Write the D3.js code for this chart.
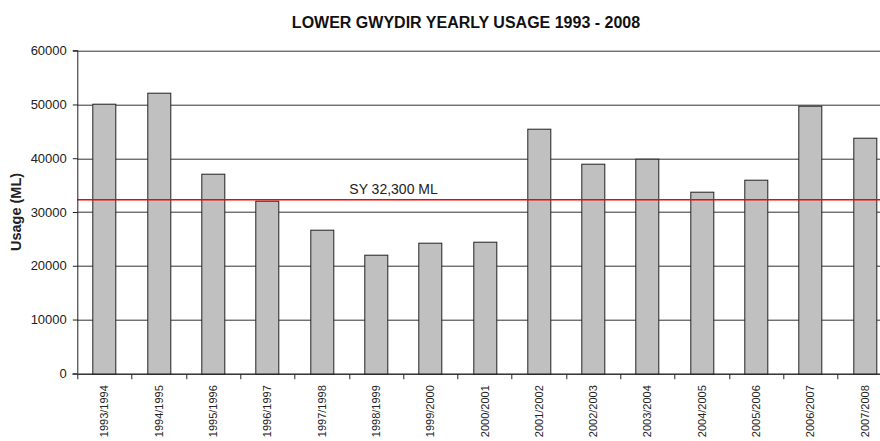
<!DOCTYPE html>
<html>
<head>
<meta charset="utf-8">
<title>Lower Gwydir Yearly Usage</title>
<script src="https://cdn.jsdelivr.net/npm/d3@7"></script>
<style>
  body { margin: 0; background: #fff; }
  svg { display: block; font-family: "Liberation Sans", Arial, sans-serif; }
  .axis text { fill: #222; }
  .axis path, .axis line { stroke: #222; }
</style>
</head>
<body>
<script>
// data
var seasons = ["1993/1994", "1994/1995", "1995/1996", "1996/1997", "1997/1998",
               "1998/1999", "1999/2000", "2000/2001", "2001/2002", "2002/2003",
               "2003/2004", "2004/2005", "2005/2006", "2006/2007", "2007/2008"];
var usage = [50200, 52100, 37100, 32100, 26800, 22100, 24200, 24400,
             45400, 38900, 39900, 33700, 36100, 49800, 43800];
var yTicks = [0, 10000, 20000, 30000, 40000, 50000, 60000];
var sustainableYield = 32300;
var syLabel = "SY 32,300 ML";

var W = 880, H = 441;
var margin = {top: 50.7, left: 77.3};
var width = 814.5, height = 322.6;

var svg = d3.select("body").append("svg")
    .attr("width", W)
    .attr("height", H);

var g = svg.append("g")
    .attr("transform", "translate(" + margin.left + "," + margin.top + ")");

var x = d3.scaleBand().domain(seasons).range([0, width]).paddingInner(0.57).paddingOuter(0.285);
var y = d3.scaleLinear().domain([0, 60000]).range([height, 0]);

// horizontal gridlines
g.selectAll(".grid")
    .data(yTicks)
    .enter().append("line")
    .attr("class", "grid")
    .attr("x1", 0)
    .attr("x2", width)
    .attr("y1", function(d) { return Math.round(y(d)) + 0.5; })
    .attr("y2", function(d) { return Math.round(y(d)) + 0.5; })
    .attr("stroke", "#333")
    .attr("stroke-width", 1);

// bars
g.selectAll(".bar")
    .data(usage)
    .enter().append("rect")
    .attr("class", "bar")
    .attr("x", function(d, i) { return Math.round(x(seasons[i])) + 0.5; })
    .attr("width", Math.round(x.bandwidth()))
    .attr("y", function(d) { return Math.round(y(d)) + 0.5; })
    .attr("height", function(d) { return Math.round(y(0)) - Math.round(y(d)); })
    .attr("fill", "#c0c0c0")
    .attr("stroke", "#222")
    .attr("stroke-width", 1);

// sustainable yield line
g.append("line")
    .attr("x1", 0)
    .attr("x2", width)
    .attr("y1", y(sustainableYield))
    .attr("y2", y(sustainableYield))
    .attr("stroke", "#ff0000")
    .attr("stroke-width", 1.5);

g.append("text")
    .attr("x", x(seasons[5]) - x.step() * 0.285 + 0.5)
    .attr("y", y(sustainableYield) - 6)
    .style("font-size", "14px")
    .attr("fill", "#222")
    .text(syLabel);

// y axis
g.append("g")
    .attr("class", "axis")
    .attr("transform", "translate(0.5,0)")
    .call(d3.axisLeft(y).tickValues(yTicks).tickSize(5).tickPadding(6).tickFormat(d3.format("d")))
    .call(function(s) { s.select(".domain").attr("d", "M-5," + y(60000) + "H0V" + y(0)); })
    .selectAll("text")
    .style("font-size", "13px");

// x axis, ticks at the band boundaries
var xAxis = g.append("g")
    .attr("class", "axis")
    .attr("transform", "translate(0," + (Math.round(height) + 0.5) + ")");

xAxis.append("line")
    .attr("x1", -5).attr("x2", width)
    .attr("stroke", "#222");

xAxis.selectAll(".xtick")
    .data(seasons)
    .enter().append("line")
    .attr("class", "xtick")
    .attr("x1", function(d) { return Math.round(x(d) - x.step() * 0.285) + 0.5; })
    .attr("x2", function(d) { return Math.round(x(d) - x.step() * 0.285) + 0.5; })
    .attr("y1", 0)
    .attr("y2", 5)
    .attr("stroke", "#222");

xAxis.selectAll(".xlabel")
    .data(seasons)
    .enter().append("text")
    .attr("class", "xlabel")
    .attr("transform", function(d) {
        return "translate(" + (x(d) + x.bandwidth() / 2 + 4) + ",11) rotate(-90)";
    })
    .style("text-anchor", "end")
    .style("font-size", "11px")
    .text(function(d) { return d; });

// title
svg.append("text")
    .attr("x", 466)
    .attr("y", 27.5)
    .style("text-anchor", "middle")
    .style("font-size", "16px")
    .style("font-weight", "bold")
    .attr("fill", "#111")
    .text("LOWER GWYDIR YEARLY USAGE 1993 - 2008");

// y axis label
svg.append("text")
    .attr("transform", "translate(21," + (margin.top + height / 2) + ") rotate(-90)")
    .style("text-anchor", "middle")
    .style("font-size", "14.5px")
    .style("font-weight", "bold")
    .attr("fill", "#222")
    .text("Usage (ML)");
</script>
</body>
</html>
